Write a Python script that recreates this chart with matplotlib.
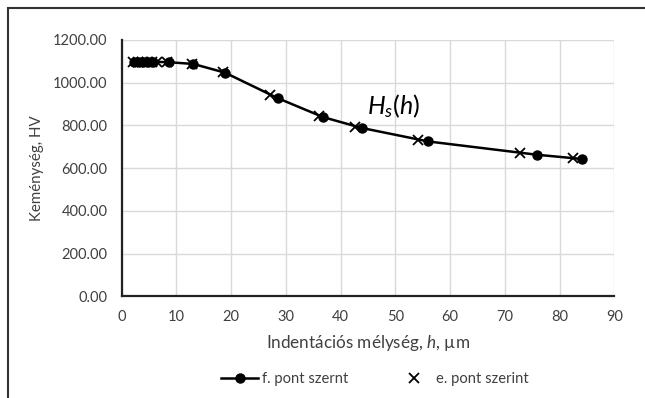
import matplotlib
matplotlib.use("Agg")
import matplotlib.pyplot as plt
from matplotlib.patches import Rectangle

plt.rcParams['font.family'] = ['Lato', 'DejaVu Sans']
plt.rcParams['mathtext.fontset'] = 'custom'
plt.rcParams['mathtext.it'] = 'Lato:italic'
plt.rcParams['mathtext.rm'] = 'Lato'

# f. pont szerint (line + dots)
f_depth = [2.3, 3.2, 4.0, 4.9, 5.8, 8.6, 13.1, 18.9, 28.5, 36.8, 43.9, 56.0, 75.8, 84.0]
f_hv = [1098, 1098, 1098, 1098, 1098, 1096, 1088, 1047, 928, 839, 788, 725, 663, 643]

# e. pont szerint (crosses only)
e_depth = [2.1, 3.0, 3.8, 4.6, 5.5, 6.5, 8.3, 12.8, 18.6, 27.1, 36.1, 42.6, 54.2, 72.8, 82.5]
e_hv = [1099, 1099, 1099, 1098, 1098, 1097, 1096, 1089, 1048, 943, 845, 795, 733, 671, 648]

xticks = [0, 10, 20, 30, 40, 50, 60, 70, 80, 90]
yticks = [0, 200, 400, 600, 800, 1000, 1200]

fig = plt.figure(figsize=(6.45, 3.98), dpi=100)
ax = fig.add_axes([0.1884, 0.2555, 0.7642, 0.644])

# outer chart border
fig.patches.append(Rectangle((8 / 645, -0.01), 1.0, 1 - 8 / 398 + 0.01,
                             transform=fig.transFigure, fill=False,
                             edgecolor='#333333', linewidth=1.5))

ax.plot(f_depth, f_hv, color='black', linewidth=1.8, marker='o',
        markersize=6.5, label='f. pont szernt', zorder=4)
ax.plot(e_depth, e_hv, linestyle='none', color='black', marker='x',
        markersize=7.5, markeredgewidth=1.3, label='e. pont szerint', zorder=3)

ax.text(44.8, 889, r'$H_s(h)$', fontsize=18, ha='left', va='center')

ax.set_xlim(0, 90)
ax.set_ylim(0, 1200)
ax.set_xticks(xticks)
ax.set_yticks(yticks)
ax.set_yticklabels([f"{v:.2f}" for v in yticks])
ax.tick_params(length=0, labelsize=10.5, colors='#404040', pad=10)
ax.grid(True, color='#d9d9d9', linewidth=1)
ax.set_axisbelow(True)
for s in ['top', 'right']:
    ax.spines[s].set_visible(False)
for s in ['left', 'bottom']:
    ax.spines[s].set_linewidth(1.6)
    ax.spines[s].set_color('#222222')

ax.set_xlabel(r'Indentációs mélység, $h$, µm', fontsize=12.3, color='#404040')
ax.set_ylabel('Keménység, HV', fontsize=10.8, color='#404040')
ax.xaxis.set_label_coords(0.5, -0.182)
ax.yaxis.set_label_coords(-0.171, 0.5)
ax.xaxis.label.set_va('center')
ax.yaxis.label.set_va('center')

fig.legend(loc='center', bbox_to_anchor=(0.581, 0.048), ncol=2, frameon=False,
           fontsize=10.6, handlelength=2.5, columnspacing=3.2, handletextpad=0.25,
           labelcolor='#404040')

fig.savefig('out.png', dpi=100)
